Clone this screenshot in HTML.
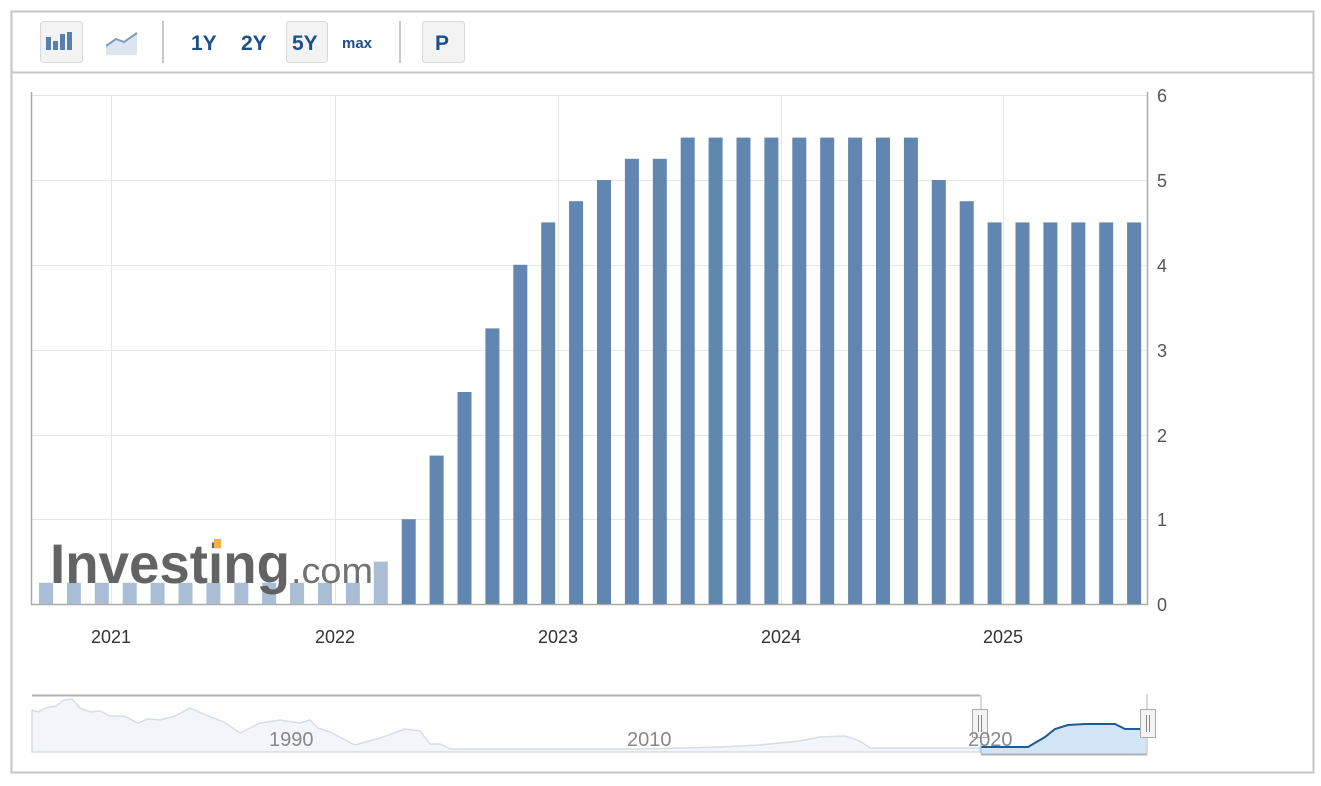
<!DOCTYPE html>
<html><head><style>
body{margin:0;background:#fff;font-family:"Liberation Sans",Arial,sans-serif;}
</style></head><body>
<svg width="1321" height="781" xmlns="http://www.w3.org/2000/svg" font-family="Liberation Sans, Arial, sans-serif">
<rect x="11.5" y="11.5" width="1302" height="761" fill="#fff" stroke="#c4c4c4" stroke-width="2"/>
<line x1="12" y1="72.5" x2="1313" y2="72.5" stroke="#c4c4c4" stroke-width="2"/>
<!-- toolbar -->
<rect x="40.5" y="21.5" width="42" height="41" rx="3" fill="#f3f3f3" stroke="#d8d8d8"/>
<g fill="#5a7fab"><rect x="46" y="37" width="5" height="13"/><rect x="53" y="41" width="5" height="9"/><rect x="60" y="34" width="5" height="16"/><rect x="67" y="32" width="5" height="18"/></g>
<path d="M106 46 L116 39 L124 42 L137 33 L137 55 L106 55Z" fill="#dce5ef"/>
<path d="M106 46 L116 39 L124 42 L137 33" fill="none" stroke="#7f9cc0" stroke-width="2"/>
<line x1="163" y1="21" x2="163" y2="63" stroke="#c8c8c8" stroke-width="2"/>
<g fill="#1d4f8c" font-weight="bold" font-size="21">
<text x="191" y="50">1Y</text><text x="241" y="50">2Y</text>
<rect x="286.5" y="21.5" width="41" height="41" rx="3" fill="#f3f3f3" stroke="#d8d8d8"/>
<text x="292" y="50">5Y</text>
<text x="342" y="48" font-size="15">max</text>
<rect x="422.5" y="21.5" width="42" height="41" rx="3" fill="#f3f3f3" stroke="#d8d8d8"/>
<text x="435" y="50">P</text></g>
<line x1="400" y1="21" x2="400" y2="63" stroke="#c8c8c8" stroke-width="2"/>
<!-- grid -->
<g stroke="#e6e6e6" stroke-width="1">
<line x1="32" y1="95.5" x2="1147" y2="95.5"/><line x1="32" y1="180.5" x2="1147" y2="180.5"/>
<line x1="32" y1="265.5" x2="1147" y2="265.5"/><line x1="32" y1="350.5" x2="1147" y2="350.5"/>
<line x1="32" y1="435.5" x2="1147" y2="435.5"/><line x1="32" y1="519.5" x2="1147" y2="519.5"/>
<line x1="111.5" y1="95" x2="111.5" y2="604"/><line x1="335.5" y1="95" x2="335.5" y2="604"/>
<line x1="558.5" y1="95" x2="558.5" y2="604"/><line x1="781.5" y1="95" x2="781.5" y2="604"/>
<line x1="1003.5" y1="95" x2="1003.5" y2="604"/>
</g>
<line x1="31.5" y1="92" x2="31.5" y2="605" stroke="#aaa" stroke-width="1.5"/>
<line x1="1147.5" y1="92" x2="1147.5" y2="605" stroke="#aaa" stroke-width="1.5"/>
<line x1="31" y1="604.5" x2="1148" y2="604.5" stroke="#aaa" stroke-width="1.5"/>
<g id="bars"></g>
<g font-weight="bold" fill="#5b5b5b" opacity="0.95"><text x="50" y="583" font-size="56" textLength="240" lengthAdjust="spacingAndGlyphs">Investing</text><text x="291" y="583" font-size="36" font-weight="normal" fill="#6a6a6a" textLength="82" lengthAdjust="spacingAndGlyphs">.com</text></g>
<rect x="214" y="539" width="7" height="9" fill="#f2b233"/>
<g font-size="18" fill="#555"><text x="1157" y="102">6</text><text x="1157" y="187">5</text><text x="1157" y="272">4</text><text x="1157" y="357">3</text><text x="1157" y="442">2</text><text x="1157" y="526">1</text><text x="1157" y="611">0</text></g>
<g font-size="18" fill="#333" text-anchor="middle"><text x="111" y="643">2021</text><text x="335" y="643">2022</text><text x="558" y="643">2023</text><text x="781" y="643">2024</text><text x="1003" y="643">2025</text></g>
<!-- navigator -->
<path d="M32 710 L38 712 L46 708 L56 706 L64 700 L72 699 L80 708 L90 712 L100 711 L110 716 L124 716 L138 723 L148 719 L160 720 L175 716 L190 708 L206 715 L224 722 L240 733 L260 723 L280 720 L300 723 L310 720 L318 728 L330 732 L355 745 L380 738 L405 729 L420 731 L430 744 L440 744 L450 749 L560 749 L640 749 L720 747 L760 745 L800 741 L820 737 L845 736 L860 741 L870 748 L980 748 L980 752 L32 752Z" fill="#f2f6fa" stroke="#d5dde6" stroke-width="1.5"/>
<line x1="32" y1="695.5" x2="980" y2="695.5" stroke="#b0b0b0" stroke-width="2"/>
<path d="M981 752 L981 747 L1030 747 L1045 737 L1055 730 L1068 725 L1085 724 L1115 724 L1125 728 L1140 729 L1146 729 L1146 754 L981 754Z" fill="#d3e4f6"/>
<path d="M981 747 L1028 747 L1045 737 L1055 729 L1068 725 L1085 724 L1115 724 L1125 729 L1146 729" fill="none" stroke="#1e5a95" stroke-width="2"/>
<line x1="981" y1="754.5" x2="1147" y2="754.5" stroke="#b0b0b0" stroke-width="2"/>
<line x1="981" y1="695" x2="981" y2="754" stroke="#b0b0b0"/><line x1="1147" y1="694" x2="1147" y2="754" stroke="#b0b0b0"/>
<rect x="972.5" y="709.5" width="15" height="28" fill="#f3f3f3" stroke="#aaa"/><line x1="978.5" y1="715" x2="978.5" y2="732" stroke="#888"/><line x1="981.5" y1="715" x2="981.5" y2="732" stroke="#888"/>
<rect x="1140.5" y="709.5" width="15" height="28" fill="#f3f3f3" stroke="#aaa"/><line x1="1146.5" y1="715" x2="1146.5" y2="732" stroke="#888"/><line x1="1149.5" y1="715" x2="1149.5" y2="732" stroke="#888"/>
<g font-size="20" fill="#888"><text x="269" y="746">1990</text><text x="627" y="746">2010</text><text x="968" y="746">2020</text></g>
</svg>
<script>
var v=[.25,.25,.25,.25,.25,.25,.25,.25,.25,.25,.25,.25,.5,1,1.75,2.5,3.25,4,4.5,4.75,5,5.25,5.25,5.5,5.5,5.5,5.5,5.5,5.5,5.5,5.5,5.5,5,4.75,4.5,4.5,4.5,4.5,4.5,4.5];
var g=document.getElementById('bars'),s='';
for(var i=0;i<v.length;i++){var x=46+i*27.9-7,h=v[i]*84.8;
s+='<rect x="'+x.toFixed(1)+'" y="'+(604-h).toFixed(1)+'" width="14" height="'+h.toFixed(1)+'" fill="'+(i<13?'#a9bdd5':'#6187b0')+'"/>';}
g.innerHTML=s;
</script>
</body></html>
